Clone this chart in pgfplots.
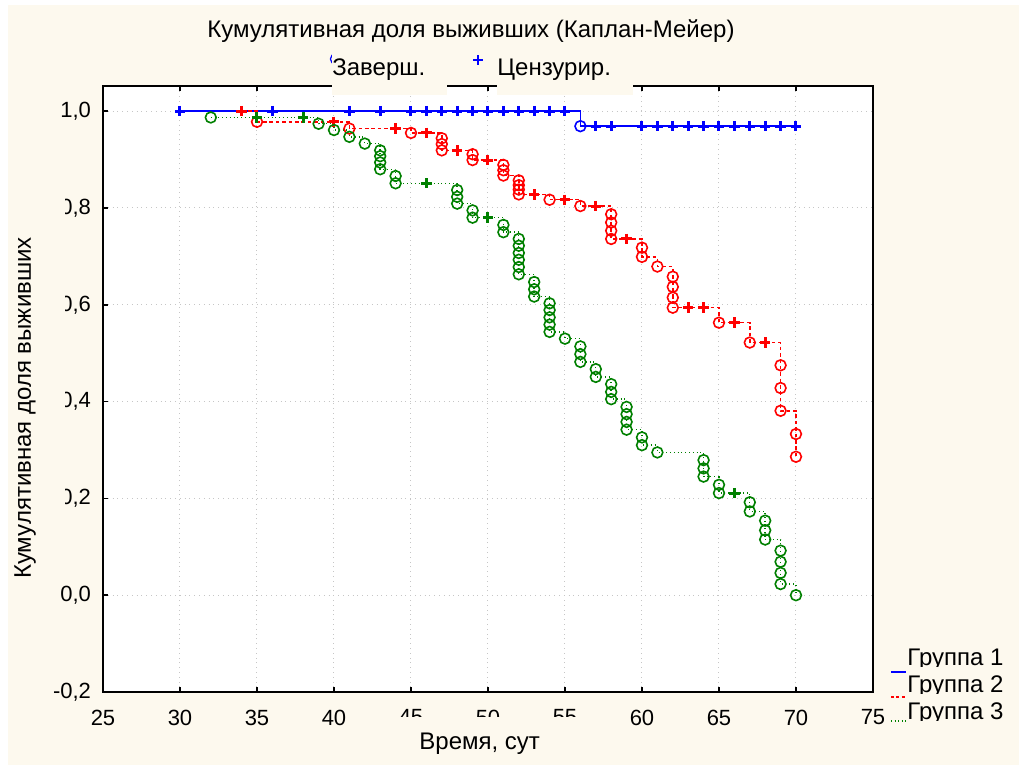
\documentclass[border=0pt]{standalone}
\usepackage{fontspec}
\setmainfont{Liberation Sans}
\usepackage{pgfplots}
\pgfplotsset{compat=1.18}
\usepackage{pgfplotstable}
\definecolor{cream}{RGB}{253,249,238}
\definecolor{kmblue}{RGB}{0,0,255}
\definecolor{kmred}{RGB}{255,0,0}
\definecolor{kmgreen}{RGB}{0,128,0}

% group 1: t = time, s = survival, c = 1 event (circle), 0 censored (+)
\pgfplotstableread{
t s c
30 1.000 0
36 1.000 0
41 1.000 0
43 1.000 0
45 1.000 0
46 1.000 0
47 1.000 0
48 1.000 0
49 1.000 0
50 1.000 0
51 1.000 0
52 1.000 0
53 1.000 0
54 1.000 0
55 1.000 0
56 0.969 1
57 0.969 0
58 0.969 0
60 0.969 0
61 0.969 0
62 0.969 0
63 0.969 0
64 0.969 0
65 0.969 0
66 0.969 0
67 0.969 0
68 0.969 0
69 0.969 0
70 0.969 0
}\groupA

\pgfplotstableread{
t s c
34 1.000 0
35 0.978 1
40 0.978 0
41 0.964 1
44 0.964 0
45 0.955 1
46 0.955 0
47 0.944 1
47 0.932 1
47 0.919 1
48 0.919 0
49 0.911 1
49 0.899 1
50 0.899 0
51 0.889 1
51 0.878 1
51 0.867 1
52 0.857 1
52 0.847 1
52 0.838 1
52 0.828 1
53 0.828 0
54 0.817 1
55 0.817 0
56 0.804 1
57 0.804 0
58 0.787 1
58 0.770 1
58 0.753 1
58 0.736 1
59 0.736 0
60 0.718 1
60 0.699 1
61 0.679 1
62 0.658 1
62 0.637 1
62 0.615 1
62 0.594 1
63 0.594 0
64 0.594 0
65 0.563 1
66 0.563 0
67 0.522 1
68 0.522 0
69 0.475 1
69 0.428 1
69 0.381 1
70 0.333 1
70 0.286 1
}\groupB

\pgfplotstableread{
t s c
32 0.987 1
35 0.987 0
38 0.987 0
39 0.974 1
40 0.961 1
41 0.947 1
42 0.933 1
43 0.919 1
43 0.907 1
43 0.894 1
43 0.880 1
44 0.866 1
44 0.851 1
46 0.851 0
48 0.837 1
48 0.823 1
48 0.809 1
49 0.795 1
49 0.780 1
50 0.780 0
51 0.765 1
51 0.750 1
52 0.736 1
52 0.722 1
52 0.707 1
52 0.693 1
52 0.678 1
52 0.663 1
53 0.647 1
53 0.632 1
53 0.617 1
54 0.603 1
54 0.589 1
54 0.574 1
54 0.559 1
54 0.544 1
55 0.530 1
56 0.514 1
56 0.498 1
56 0.482 1
57 0.467 1
57 0.451 1
58 0.436 1
58 0.420 1
58 0.405 1
59 0.389 1
59 0.374 1
59 0.358 1
59 0.342 1
60 0.326 1
60 0.310 1
61 0.295 1
64 0.279 1
64 0.262 1
64 0.245 1
65 0.228 1
65 0.211 1
66 0.211 0
67 0.192 1
67 0.173 1
68 0.154 1
68 0.134 1
68 0.115 1
69 0.092 1
69 0.069 1
69 0.046 1
69 0.023 1
70 0.000 1
}\groupC

\begin{document}
\begin{tikzpicture}
\useasboundingbox (0,0) rectangle (509.5pt,382.5pt);
\fill[white] (0,0) rectangle (509.5pt,382.5pt);
\fill[cream] (4pt,0) rectangle (509.5pt,380pt);
\begin{axis}[
  at={(51.5pt,36.5pt)}, anchor=south west,
  scale only axis, width=385pt, height=303pt,
  xmin=25, xmax=75, ymin=-0.2, ymax=1.052,
  xtick={25,30,...,75},
  ytick={-0.2,0,0.2,0.4,0.6,0.8,1.0},
  axis background/.style={fill=white},
  axis line style={line width=0.9pt, black},
  tick style={black, line width=0.8pt},
  tick align=inside,
  major tick length=2.5pt,
  ytick pos=left,
  grid=major,
  major grid style={gray!45, dotted, line width=0.5pt},
  /pgf/number format/assume math mode=true,
  tick label style={font=\fontsize{11}{13}\selectfont},
  xticklabel style={yshift=-5.3pt, /pgf/number format/.cd, fixed, precision=0},
  yticklabel style={xshift=-2.5pt, /pgf/number format/.cd, fixed, fixed zerofill, precision=1, use comma},
  clip=false,
]
% group 1
\addplot[kmblue, line width=0.75pt, const plot, no marks] table[x=t,y=s]{\groupA};
\addplot[kmblue, only marks, mark=o, mark size=2.7pt, mark options={line width=0.8pt},
  restrict expr to domain={\thisrow{c}}{0.5:1.5}] table[x=t,y=s]{\groupA};
\addplot[kmblue, only marks, mark=+, mark size=2.6pt, mark options={line width=1.5pt},
  restrict expr to domain={\thisrow{c}}{-0.5:0.5}] table[x=t,y=s]{\groupA};
% group 2
\addplot[kmred, line width=0.75pt, dash pattern=on 1.8pt off 1.4pt, const plot, no marks] table[x=t,y=s]{\groupB};
\addplot[kmred, only marks, mark=o, mark size=2.7pt, mark options={line width=0.8pt, solid},
  restrict expr to domain={\thisrow{c}}{0.5:1.5}] table[x=t,y=s]{\groupB};
\addplot[kmred, only marks, mark=+, mark size=2.6pt, mark options={line width=1.5pt, solid},
  restrict expr to domain={\thisrow{c}}{-0.5:0.5}] table[x=t,y=s]{\groupB};
% group 3
\addplot[kmgreen, line width=0.7pt, dash pattern=on 0.5pt off 1.4pt, const plot, no marks] table[x=t,y=s]{\groupC};
\addplot[kmgreen, only marks, mark=o, mark size=2.7pt, mark options={line width=0.8pt, solid},
  restrict expr to domain={\thisrow{c}}{0.5:1.5}] table[x=t,y=s]{\groupC};
\addplot[kmgreen, only marks, mark=+, mark size=2.6pt, mark options={line width=1.5pt, solid},
  restrict expr to domain={\thisrow{c}}{-0.5:0.5}] table[x=t,y=s]{\groupC};
\end{axis}

% title
\node[font=\fontsize{12}{14}\selectfont] at (235.5pt,367pt) {Кумулятивная доля выживших (Каплан-Мейер)};
% top legend
\draw[kmblue, line width=0.6pt] (167.8pt,353pt) circle (2.6pt);
\fill[cream] (166pt,335pt) rectangle (223.5pt,357.5pt);
\node[anchor=base west, inner sep=0pt, font=\fontsize{12}{14}\selectfont] at (166pt,344.5pt) {Заверш.};
\draw[kmblue, line width=1pt] (236.5pt,352.5pt) -- (241.5pt,352.5pt) (239pt,350pt) -- (239pt,355pt);
\fill[cream] (248.5pt,335pt) rectangle (316.5pt,357.5pt);
\node[anchor=base west, inner sep=0pt, font=\fontsize{12}{14}\selectfont] at (248.5pt,344.5pt) {Цензурир.};
% x label
\fill[cream] (196pt,0pt) rectangle (297.5pt,24pt);
\node[anchor=base west, inner sep=0pt, font=\fontsize{12}{14}\selectfont] at (209.5pt,7.5pt) {Время, сут};
% y label
\fill[cream] (4pt,102.5pt) rectangle (32.5pt,302.5pt);
\node[rotate=90, inner sep=0pt, font=\fontsize{12}{14}\selectfont] at (12.5pt,178.5pt) {Кумулятивная доля выживших};
% group legend
\draw[kmblue, line width=0.7pt] (445.5pt,46.5pt) -- (453pt,46.5pt);
\draw[kmred, line width=0.7pt, dash pattern=on 1.5pt off 1.2pt] (445.5pt,34pt) -- (453pt,34pt);
\draw[kmgreen, line width=0.7pt, dash pattern=on 0.5pt off 1.3pt] (445.5pt,22pt) -- (453pt,22pt);
\node[anchor=base west, inner sep=0pt, font=\fontsize{12}{14}\selectfont] at (453.5pt,49.5pt) {Группа 1};
\fill[cream] (453pt,45.5pt) rectangle (507pt,49.2pt);
\node[anchor=base west, inner sep=0pt, font=\fontsize{12}{14}\selectfont] at (453.5pt,36pt) {Группа 2};
\fill[cream] (453pt,32pt) rectangle (507pt,35.7pt);
\node[anchor=base west, inner sep=0pt, font=\fontsize{12}{14}\selectfont] at (453.5pt,22.5pt) {Группа 3};
\fill[cream] (453pt,18.5pt) rectangle (507pt,22.2pt);
\end{tikzpicture}
\end{document}
